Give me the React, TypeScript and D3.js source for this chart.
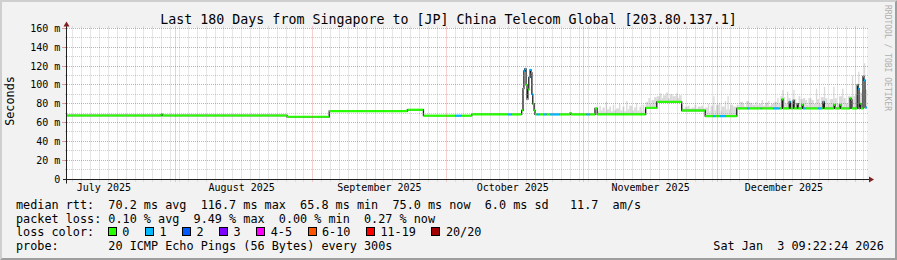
import React from "react";
import * as d3 from "d3";

const W = 897;
const H = 260;
const DAY_MS = 86400000;
// left edge of the 180-day window (UTC frame used for the time axis)
const WINDOW_START = Date.UTC(2025, 6, 7, 16, 48);
const WINDOW_DAYS = 180;

const TITLE = "Last 180 Days from Singapore to [JP] China Telecom Global [203.80.137.1]";
const Y_LABEL = "Seconds";
const WATERMARK = "RRDTOOL / TOBI OETIKER";

const yMajorTicks = [0, 20, 40, 60, 80, 100, 120, 140, 160];
const yTickLabels = ["0", "20 m", "40 m", "60 m", "80 m", "100 m", "120 m", "140 m", "160 m"];
const yMinorTicks = [10, 30, 50, 70, 90, 110, 130, 150];

const monthGridDates = ["2025-08-01", "2025-09-01", "2025-10-01", "2025-11-01", "2025-12-01", "2026-01-01"];
const monthLabelDates = ["2025-07-16", "2025-08-16", "2025-09-16", "2025-10-16", "2025-11-16", "2025-12-16"];
const monthLabels = ["July 2025", "August 2025", "September 2025", "October 2025", "November 2025", "December 2025"];

// median RTT steps: [days since window start, median ms, lost pings (of 20)]
const medianSteps: [number, number, number][] = [
  [0, 67.5, 0], [21.2, 68.6, 0], [21.5, 67.5, 0],
  [49.5, 66.2, 0],
  [59.0, 72.1, 0],
  [76.6, 73.6, 0],
  [80.2, 67.3, 0], [87.3, 67.3, 1], [88.8, 67.3, 0],
  [91.1, 68.6, 0], [99.2, 68.6, 1], [100.1, 68.6, 0],
  [102.3, 73, 0], [102.6, 96, 0], [102.8, 115, 1], [103.0, 117, 1], [103.3, 100, 0],
  [103.5, 85, 0], [103.7, 95, 0], [103.9, 108, 1], [104.2, 116, 1], [104.4, 113, 0],
  [104.6, 90, 1], [104.8, 80, 0], [105.1, 73, 0],
  [105.3, 68.6, 0], [105.7, 68.6, 1], [106.4, 68.6, 0], [107.3, 68.6, 1], [107.9, 68.6, 0],
  [108.7, 68.6, 1], [110.9, 68.6, 0], [113.2, 70, 0], [113.4, 68.6, 0],
  [116.9, 68.6, 1], [117.7, 68.6, 0], [118.8, 75, 0], [119.3, 68.6, 0],
  [130.2, 75.6, 0],
  [132.7, 82.0, 0],
  [138.3, 72.8, 0],
  [143.6, 66.8, 0], [145.4, 66.8, 1], [145.9, 66.8, 0], [146.9, 66.8, 1], [148.3, 66.8, 0],
  [150.7, 75.0, 0], [153.0, 75, 1], [153.5, 75, 0], [156.1, 75, 1], [156.4, 75, 0],
  [159.0, 75, 1], [160.3, 75, 0],
  [160.9, 84.7, 0], [161.1, 75, 0],
  [162.5, 82, 1], [162.8, 75, 0],
  [163.4, 83.5, 0], [163.6, 75, 0],
  [164.3, 80, 0], [164.5, 75, 0],
  [165.4, 78.7, 0], [165.6, 75, 1], [166.1, 75, 0],
  [169.0, 75, 1], [169.9, 75, 0],
  [170.1, 82, 1], [170.4, 75, 0],
  [172.6, 78.7, 0], [172.8, 75, 0],
  [173.9, 78.7, 0], [174.1, 75, 0],
  [176.0, 75, 1], [176.2, 85.8, 0], [176.4, 84, 1], [176.6, 75, 0],
  [177.8, 100, 0], [178.0, 96, 1], [178.2, 75, 1], [178.4, 80, 0], [178.6, 75, 0],
  [179.1, 109, 0], [179.3, 105, 1], [179.55, 76, 1],
];

// upper edge of the ping "smoke": [days since window start, ms]
const smokeSteps: [number, number][] = [
  [119.3, 72], [119.8, 78], [120.1, 73], [120.5, 76], [121.0, 72], [121.2, 82], [121.5, 74], [122.0, 77],
  [122.4, 72], [122.8, 79], [123.1, 73], [123.5, 75], [124.2, 80], [124.5, 73], [125.0, 77], [125.4, 72],
  [125.8, 83], [126.1, 74], [126.5, 78], [127.2, 73], [127.6, 76], [128.0, 81], [128.3, 73], [128.8, 77],
  [129.2, 72], [129.5, 79], [129.9, 73],
  [130.2, 82], [130.8, 86], [131.2, 80], [131.5, 84], [132.1, 87],
  [132.7, 88], [133.4, 91], [133.8, 86], [134.1, 89], [134.8, 92], [135.2, 86], [135.6, 90], [136.3, 88],
  [137.0, 91], [137.4, 86], [137.7, 89],
  [138.3, 79], [138.7, 75], [139.0, 77], [139.7, 78], [140.1, 75], [140.5, 76], [141.2, 79], [141.6, 75],
  [141.9, 77], [142.7, 78], [143.1, 75],
  [143.6, 76], [144.2, 80], [144.5, 72], [144.8, 78], [145.4, 88], [145.7, 73], [146.0, 79], [146.7, 81],
  [147.0, 72], [147.3, 77], [148.0, 83], [148.3, 74], [148.6, 88], [148.9, 74], [149.2, 79], [149.9, 77],
  [150.7, 79], [151.1, 77], [151.4, 82], [152.1, 80], [152.4, 77], [152.8, 83], [153.5, 81], [154.2, 79],
  [154.9, 82], [155.2, 78], [155.6, 80], [156.3, 84], [156.6, 78], [157.0, 81], [157.7, 83], [158.0, 78],
  [158.4, 80], [159.1, 82], [159.8, 86], [160.1, 80],
  [160.5, 88], [160.9, 94.6], [161.2, 87], [161.6, 80], [162.0, 92.8], [162.3, 86], [162.8, 80], [163.4, 94.6], [163.7, 85],
  [164.1, 80], [164.6, 88], [165.0, 85], [165.6, 86], [166.1, 84], [166.5, 79], [166.8, 86], [167.5, 84], [168.0, 80], [168.5, 96],
  [168.8, 85], [169.2, 80], [169.6, 87], [170.3, 98], [170.6, 86], [171.1, 80], [171.6, 85], [172.4, 98], [172.7, 86],
  [173.2, 80], [173.7, 88], [174.4, 96], [174.7, 86], [175.2, 80], [175.7, 88], [176.6, 110], [176.9, 88], [177.4, 90],
  [178.0, 114], [178.3, 92], [179.0, 95], [179.3, 123], [179.6, 95],
];

const lossLabels = ["0", "1", "2", "3", "4-5", "6-10", "11-19", "20/20"];
const lossColors = ["#26ff00", "#00b8ff", "#0059ff", "#7e00ff", "#ff00ff", "#ff5500", "#ff0000", "#a00000"];
// upper bound of lost pings for each loss colour bucket
const lossBucketMax = [0, 1, 2, 3, 5, 10, 19, 20];

const legendMedian = "median rtt:  70.2 ms avg  116.7 ms max  65.8 ms min  75.0 ms now  6.0 ms sd   11.7  am/s";
const legendLoss = "packet loss: 0.10 % avg  9.49 % max  0.00 % min  0.27 % now";
const legendLossColor = "loss color:";
const legendProbe = "probe:       20 ICMP Echo Pings (56 Bytes) every 300s";
const legendDate = "Sat Jan  3 09:22:24 2026";

const MONO = "'DejaVu Sans Mono', monospace";

export default function App() {
  const x = d3.scaleLinear().domain([0, WINDOW_DAYS]).range([67, 867]);
  const y = d3.scaleLinear().domain([0, 160]).range([179, 28.5]);
  const crisp = (v: number) => Math.floor(v) + 0.5;
  const parse = d3.utcParse("%Y-%m-%d");
  const dayOf = (d: Date) => (d.getTime() - WINDOW_START) / DAY_MS;

  const endDate = new Date(WINDOW_START + WINDOW_DAYS * DAY_MS);
  const monthDays = monthGridDates.map((s) => dayOf(parse(s) as Date));
  const minorDays = d3.utcDay
    .range(d3.utcDay.floor(new Date(WINDOW_START)), endDate, 1)
    .filter((_, i) => i % 2 === 0)
    .map(dayOf)
    .filter((d) => d > 0 && d < WINDOW_DAYS && !monthDays.some((m) => Math.abs(m - d) < 0.01));

  const xLeft = x(0);
  const xRight = x(WINDOW_DAYS);
  const yBottom = crisp(y(0));
  const yTop = crisp(y(160));

  const bucketOf = (lost: number) => lossBucketMax.findIndex((m) => lost <= m);

  const medExt: [number, number, number][] = [...medianSteps, [WINDOW_DAYS, medianSteps[medianSteps.length - 1][1], 0]];
  const bis = d3.bisector((d: [number, number, number]) => d[0]).right;
  const medianAt = (day: number) => medianSteps[Math.max(0, bis(medianSteps, day) - 1)][1];

  const medianLine = d3
    .line<[number, number, number]>()
    .x((d) => x(d[0]))
    .y((d) => y(d[1]))
    .curve(d3.curveStepAfter)(medExt) as string;

  const gridColor = "rgba(143,143,143,0.45)";
  const mgridColor = "rgba(222,79,79,0.55)";

  let bx = 108.3;
  const legendItems = lossLabels.map((lab, i) => {
    const item = { lab, color: lossColors[i], x: bx };
    bx += 14 + lab.length * 7.1 + 16.0;
    return item;
  });

  const pre = { whiteSpace: "pre" as const };

  return (
    <svg
      width={W}
      height={H}
      style={{ position: "absolute", left: 0, top: 0, display: "block" }}
      xmlns="http://www.w3.org/2000/svg"
    >
      <rect x={0} y={0} width={W} height={H} fill="#f2f2f2" />
      <polygon points={`0,0 ${W},0 ${W - 2},2 2,2 2,${H - 2} 0,${H}`} fill="#cfcfcf" />
      <polygon points={`0,${H} ${W},${H} ${W},0 ${W - 2},2 ${W - 2},${H - 2} 2,${H - 2}`} fill="#9e9e9e" />

      <rect x={xLeft} y={yTop - 0.5} width={xRight - xLeft} height={yBottom - yTop + 0.5} fill="#ffffff" />

      {/* smoke */}
      <g>
        {smokeSteps.map((s, i) => {
          const next = i + 1 < smokeSteps.length ? smokeSteps[i + 1][0] : WINDOW_DAYS;
          const base = medianAt(s[0]);
          const y1 = y(Math.max(s[1], base));
          const y2 = y(Math.min(s[1], base));
          return (
            <rect
              key={i}
              x={x(s[0])}
              y={y1}
              width={Math.max(0.6, x(next) - x(s[0]))}
              height={Math.max(0, y2 - y1)}
              fill="#dadada"
            />
          );
        })}
      </g>

      <path d={medianLine} fill="none" stroke="#1c1c1c" strokeWidth={1.3} />
      <g>
        {medianSteps.map((s, i) => {
          const next = medExt[i + 1][0];
          return (
            <line
              key={i}
              x1={x(s[0])}
              x2={x(next)}
              y1={y(s[1])}
              y2={y(s[1])}
              stroke={lossColors[bucketOf(s[2])]}
              strokeWidth={2.2}
            />
          );
        })}
      </g>

      {/* horizontal grid */}
      <g>
        {yMinorTicks.map((v) => (
          <line key={"hm" + v} x1={xLeft - 2} x2={xRight + 2} y1={crisp(y(v))} y2={crisp(y(v))} stroke={gridColor} strokeDasharray="1 1" />
        ))}
        {yMajorTicks.slice(1).map((v) => (
          <g key={"hM" + v}>
            <line x1={xLeft - 2} x2={xRight + 2} y1={crisp(y(v))} y2={crisp(y(v))} stroke={mgridColor} strokeDasharray="1 1" />
            <line x1={xLeft - 5} x2={xLeft - 1} y1={crisp(y(v))} y2={crisp(y(v))} stroke={mgridColor} />
          </g>
        ))}
      </g>
      {/* vertical grid */}
      <g>
        {minorDays.map((d) => (
          <line key={"vm" + d} x1={crisp(x(d))} x2={crisp(x(d))} y1={yTop - 2} y2={yBottom + 2} stroke={gridColor} strokeDasharray="1 1" />
        ))}
        {monthDays.map((d) => (
          <line key={"vM" + d} x1={crisp(x(d))} x2={crisp(x(d))} y1={yTop - 2} y2={yBottom + 3} stroke={mgridColor} strokeDasharray="1 1" />
        ))}
      </g>

      {/* axes */}
      <line x1={xLeft - 4} x2={xRight + 4} y1={yBottom} y2={yBottom} stroke="#1f1f1f" strokeWidth={1} />
      <line x1={xLeft - 0.5} x2={xLeft - 0.5} y1={yBottom + 4} y2={yTop - 3} stroke="#1f1f1f" strokeWidth={1} />
      <polygon points={`${xRight + 2},${yBottom - 3} ${xRight + 2},${yBottom + 3} ${xRight + 7},${yBottom}`} fill="#801f1f" />
      <polygon points={`${xLeft - 3.5},${yTop - 2} ${xLeft + 2.5},${yTop - 2} ${xLeft - 0.5},${yTop - 7}`} fill="#801f1f" />

      {/* y tick labels */}
      <g fontFamily={MONO} fontSize={10} fill="#000">
        {yMajorTicks.map((v, i) => (
          <text key={"yl" + v} x={60.3} y={crisp(y(v)) + 3.6} textAnchor="end" xmlSpace="preserve" style={pre}>
            {yTickLabels[i]}
          </text>
        ))}
      </g>
      {/* x labels */}
      <g fontFamily={MONO} fontSize={10} fill="#000">
        {monthLabelDates.map((s, i) => (
          <text key={"xl" + s} x={x(dayOf(parse(s) as Date))} y={191} textAnchor="middle">
            {monthLabels[i]}
          </text>
        ))}
      </g>

      <text x={448.5} y={23.7} textAnchor="middle" fontFamily={MONO} fontSize={13.3} fill="#000">
        {TITLE}
      </text>
      <text transform="translate(14,101) rotate(-90)" textAnchor="middle" fontFamily={MONO} fontSize={11.8} fill="#000">
        {Y_LABEL}
      </text>
      <text transform="translate(885,5) rotate(90)" fontFamily={MONO} fontSize={8} fill="#b0b0b0">
        {WATERMARK}
      </text>

      {/* legend */}
      <g fontFamily={MONO} fontSize={11.8} fill="#000">
        <text x={16} y={209} xmlSpace="preserve" style={pre}>{legendMedian}</text>
        <text x={16} y={222.7} xmlSpace="preserve" style={pre}>{legendLoss}</text>
        <text x={16} y={236.4} xmlSpace="preserve" style={pre}>{legendLossColor}</text>
        {legendItems.map((it) => (
          <g key={it.lab}>
            <rect x={crisp(it.x)} y={227.5} width={8} height={8} fill={it.color} stroke="#000" strokeWidth={1} />
            <text x={it.x + 14} y={236.4}>{it.lab}</text>
          </g>
        ))}
        <text x={16} y={250.1} xmlSpace="preserve" style={pre}>{legendProbe}</text>
        <text x={713.3} y={250.1} xmlSpace="preserve" style={pre}>{legendDate}</text>
      </g>
    </svg>
  );
}
